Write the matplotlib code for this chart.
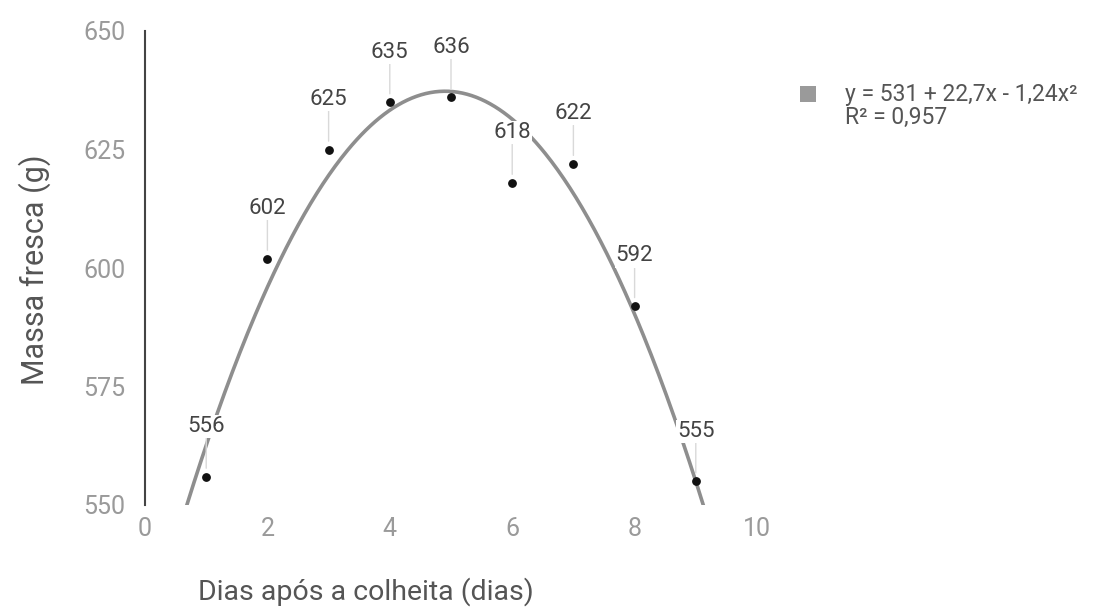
import numpy as np
import matplotlib
matplotlib.use("Agg")
import matplotlib.pyplot as plt

plt.rcParams['font.family'] = ['Roboto', 'DejaVu Sans']

## data
dias = [1, 2, 3, 4, 5, 6, 7, 8, 9]
massa = [556, 602, 625, 635, 636, 618, 622, 592, 555]
equacao = "y = 531 + 22,7x - 1,24x²"
r2 = "R² = 0,957"
xticks = [0, 2, 4, 6, 8, 10]
yticks = [550, 575, 600, 625, 650]

## quadratic trend line fitted to the points
coef = np.polyfit(dias, massa, 2)
xs = np.linspace(0, 10, 400)
ys = np.polyval(coef, xs)

fig = plt.figure(figsize=(11.17, 6.09), dpi=100)
ax = fig.add_axes([145/1117, 1 - 505/609, (757-145)/1117, (505-31)/609])

ax.plot(xs, ys, color='#8e8e8e', lw=2.6, zorder=2, solid_capstyle='butt')
ax.scatter(dias, massa, s=28, color='#111111', zorder=4)

for x, y in zip(dias, massa):
    ax.annotate(str(y), (x, y), xytext=(0, 36), textcoords='offset points',
                ha='center', va='center', fontsize=16, color='#444444',
                bbox=dict(boxstyle='square,pad=0.05', fc='white', ec='none'),
                arrowprops=dict(arrowstyle='-', color='#d9d9d9', lw=1,
                                shrinkA=0, shrinkB=6),
                zorder=5)

ax.set_xlim(0, 10)
ax.set_ylim(550, 650)
ax.set_xticks(xticks)
ax.set_yticks(yticks)
ax.tick_params(axis='both', length=0, labelsize=18, labelcolor='#9a9a9a')
ax.tick_params(axis='x', pad=9)
ax.tick_params(axis='y', pad=14)
for s in ['top', 'right', 'bottom']:
    ax.spines[s].set_visible(False)
ax.spines['left'].set_color('#444444')
ax.spines['left'].set_linewidth(1.5)

fig.text(366/1117, 1 - 592/609, "Dias após a colheita (dias)", ha='center', va='center',
         fontsize=20.5, color='#555555')
fig.text(35/1117, 1 - 270/609, "Massa fresca (g)", ha='center', va='center',
         rotation=90, fontsize=22, color='#555555')

## legend
fig.patches.append(plt.Rectangle((800/1117, 1 - 102/609), 16/1117, 16/609,
                                 transform=fig.transFigure, fc='#9a9a9a', ec='none'))
fig.text(845/1117, 1 - 95/609, equacao, ha='left', va='center', fontsize=16.5, color='#555555')
fig.text(845/1117, 1 - 117/609, r2, ha='left', va='center', fontsize=16.5, color='#555555')

fig.savefig("out.png", dpi=100)
